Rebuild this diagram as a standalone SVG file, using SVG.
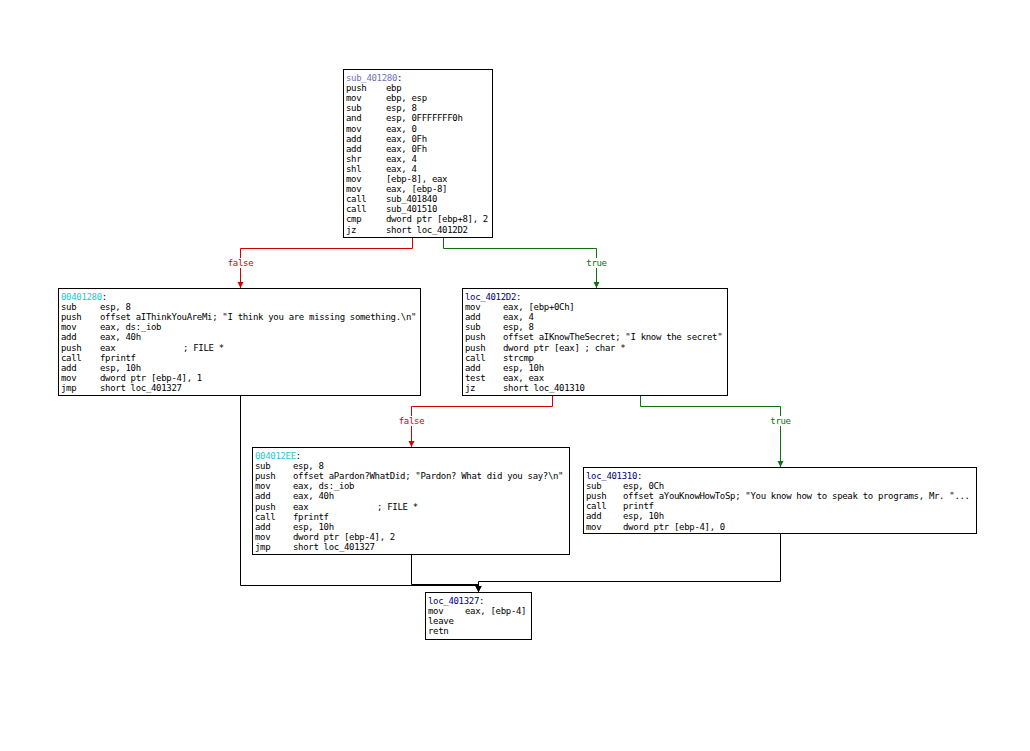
<svg xmlns="http://www.w3.org/2000/svg" width="1030" height="751" viewBox="0 0 1030 751">
<style>
.bg{fill:#fff}
.box{fill:#fff;stroke:#000;stroke-width:1}
text{font-family:"DejaVu Sans Mono","Liberation Mono",monospace;font-size:9px;letter-spacing:-0.32px;fill:#000}
.sub{fill:#7070c0}
.cy{fill:#22c8d8}
.loc{fill:#000080}
.e{fill:none;stroke-width:1}
.r{stroke:#d00000}
.g{stroke:#107010}
.k{stroke:#000}
.lr{fill:#d00000;text-anchor:middle}
.lg{fill:#107010;text-anchor:middle}
</style>
<defs>
<marker id="ar" markerUnits="userSpaceOnUse" markerWidth="7" markerHeight="7" refX="6" refY="3.5" orient="auto"><path d="M0,0.5 L6,3.5 L0,6.5 z" fill="#d00000"/></marker>
<marker id="ag" markerUnits="userSpaceOnUse" markerWidth="7" markerHeight="7" refX="6" refY="3.5" orient="auto"><path d="M0,0.5 L6,3.5 L0,6.5 z" fill="#107010"/></marker>
<marker id="ak" markerUnits="userSpaceOnUse" markerWidth="7" markerHeight="7" refX="6" refY="3.5" orient="auto"><path d="M0,0.5 L6,3.5 L0,6.5 z" fill="#000"/></marker>
</defs>
<rect class="bg" x="0" y="0" width="1030" height="751"/>

<g id="connectors">
<polyline class="e r" points="412.5,237 412.5,248.5 240.5,248.5 240.5,288" marker-end="url(#ar)"/>
<polyline class="e g" points="443.5,237 443.5,248.5 596.5,248.5 596.5,288" marker-end="url(#ag)"/>
<polyline class="e r" points="552.5,395 552.5,406.5 411.5,406.5 411.5,447" marker-end="url(#ar)"/>
<polyline class="e g" points="640.5,395 640.5,406.5 780.5,406.5 780.5,467" marker-end="url(#ag)"/>
<polyline class="e k" points="240.5,395 240.5,585.5 478.5,585.5 478.5,592" marker-end="url(#ak)"/>
<polyline class="e k" points="411.5,554 411.5,584.5 478.5,584.5 478.5,592" marker-end="url(#ak)"/>
<polyline class="e k" points="780.5,533 780.5,581.5 478.5,581.5 478.5,592" marker-end="url(#ak)"/>
<rect class="bg" x="226" y="258" width="29" height="10"/>
<text class="lr" x="240.5" y="266">false</text>
<rect class="bg" x="584" y="258" width="25" height="10"/>
<text class="lg" x="596.5" y="266">true</text>
<rect class="bg" x="397" y="416" width="29" height="10"/>
<text class="lr" x="411.5" y="424">false</text>
<rect class="bg" x="768" y="416" width="25" height="10"/>
<text class="lg" x="780.5" y="424">true</text>
</g>

<g id="sub_401280">
<rect class="box" x="343.5" y="69.5" width="149" height="168"/>
<text x="346" y="81"><tspan class="sub">sub_401280</tspan>:</text>
<text x="346" y="91.1">push</text><text x="386" y="91.1">ebp</text>
<text x="346" y="101.2">mov</text><text x="386" y="101.2">ebp, esp</text>
<text x="346" y="111.3">sub</text><text x="386" y="111.3">esp, 8</text>
<text x="346" y="121.4">and</text><text x="386" y="121.4">esp, 0FFFFFFF0h</text>
<text x="346" y="131.5">mov</text><text x="386" y="131.5">eax, 0</text>
<text x="346" y="141.6">add</text><text x="386" y="141.6">eax, 0Fh</text>
<text x="346" y="151.7">add</text><text x="386" y="151.7">eax, 0Fh</text>
<text x="346" y="161.8">shr</text><text x="386" y="161.8">eax, 4</text>
<text x="346" y="171.9">shl</text><text x="386" y="171.9">eax, 4</text>
<text x="346" y="182">mov</text><text x="386" y="182">[ebp-8], eax</text>
<text x="346" y="192.1">mov</text><text x="386" y="192.1">eax, [ebp-8]</text>
<text x="346" y="202.2">call</text><text x="386" y="202.2">sub_401840</text>
<text x="346" y="212.3">call</text><text x="386" y="212.3">sub_401510</text>
<text x="346" y="222.4">cmp</text><text x="386" y="222.4">dword ptr [ebp+8], 2</text>
<text x="346" y="232.5">jz</text><text x="386" y="232.5">short loc_4012D2</text>
</g>

<g id="n00401280">
<rect class="box" x="58.5" y="288.5" width="362" height="107"/>
<text x="61" y="300"><tspan class="cy">00401280</tspan>:</text>
<text x="61" y="310.1">sub</text><text x="100" y="310.1">esp, 8</text>
<text x="61" y="320.2">push</text><text x="100" y="320.2">offset aIThinkYouAreMi; "I think you are missing something.\n"</text>
<text x="61" y="330.3">mov</text><text x="100" y="330.3">eax, ds:_iob</text>
<text x="61" y="340.4">add</text><text x="100" y="340.4">eax, 40h</text>
<text x="61" y="350.5">push</text><text x="100" y="350.5">eax</text><text x="183" y="350.5">; FILE *</text>
<text x="61" y="360.6">call</text><text x="100" y="360.6">fprintf</text>
<text x="61" y="370.7">add</text><text x="100" y="370.7">esp, 10h</text>
<text x="61" y="380.8">mov</text><text x="100" y="380.8">dword ptr [ebp-4], 1</text>
<text x="61" y="390.9">jmp</text><text x="100" y="390.9">short loc_401327</text>
</g>

<g id="loc_4012D2">
<rect class="box" x="462.5" y="288.5" width="265" height="107"/>
<text x="465" y="300"><tspan class="loc">loc_4012D2</tspan>:</text>
<text x="465" y="310.1">mov</text><text x="503" y="310.1">eax, [ebp+0Ch]</text>
<text x="465" y="320.2">add</text><text x="503" y="320.2">eax, 4</text>
<text x="465" y="330.3">sub</text><text x="503" y="330.3">esp, 8</text>
<text x="465" y="340.4">push</text><text x="503" y="340.4">offset aIKnowTheSecret; "I know the secret"</text>
<text x="465" y="350.5">push</text><text x="503" y="350.5">dword ptr [eax] ; char *</text>
<text x="465" y="360.6">call</text><text x="503" y="360.6">strcmp</text>
<text x="465" y="370.7">add</text><text x="503" y="370.7">esp, 10h</text>
<text x="465" y="380.8">test</text><text x="503" y="380.8">eax, eax</text>
<text x="465" y="390.9">jz</text><text x="503" y="390.9">short loc_401310</text>
</g>

<g id="n004012EE">
<rect class="box" x="252.5" y="447.5" width="317" height="107"/>
<text x="255" y="459"><tspan class="cy">004012EE</tspan>:</text>
<text x="255" y="469.1">sub</text><text x="293" y="469.1">esp, 8</text>
<text x="255" y="479.2">push</text><text x="293" y="479.2">offset aPardon?WhatDid; "Pardon? What did you say?\n"</text>
<text x="255" y="489.3">mov</text><text x="293" y="489.3">eax, ds:_iob</text>
<text x="255" y="499.4">add</text><text x="293" y="499.4">eax, 40h</text>
<text x="255" y="509.5">push</text><text x="293" y="509.5">eax</text><text x="377" y="509.5">; FILE *</text>
<text x="255" y="519.6">call</text><text x="293" y="519.6">fprintf</text>
<text x="255" y="529.7">add</text><text x="293" y="529.7">esp, 10h</text>
<text x="255" y="539.8">mov</text><text x="293" y="539.8">dword ptr [ebp-4], 2</text>
<text x="255" y="549.9">jmp</text><text x="293" y="549.9">short loc_401327</text>
</g>

<g id="loc_401310">
<rect class="box" x="583.5" y="467.5" width="393" height="66"/>
<text x="586" y="479"><tspan class="loc">loc_401310</tspan>:</text>
<text x="586" y="489.1">sub</text><text x="623" y="489.1">esp, 0Ch</text>
<text x="586" y="499.2">push</text><text x="623" y="499.2">offset aYouKnowHowToSp; "You know how to speak to programs, Mr. "...</text>
<text x="586" y="509.3">call</text><text x="623" y="509.3">printf</text>
<text x="586" y="519.4">add</text><text x="623" y="519.4">esp, 10h</text>
<text x="586" y="529.5">mov</text><text x="623" y="529.5">dword ptr [ebp-4], 0</text>
</g>

<g id="loc_401327">
<rect class="box" x="425.5" y="592.5" width="106" height="47"/>
<text x="428" y="604"><tspan class="loc">loc_401327</tspan>:</text>
<text x="428" y="614.1">mov</text><text x="465" y="614.1">eax, [ebp-4]</text>
<text x="428" y="624.2">leave</text>
<text x="428" y="634.3">retn</text>
</g>
</svg>
